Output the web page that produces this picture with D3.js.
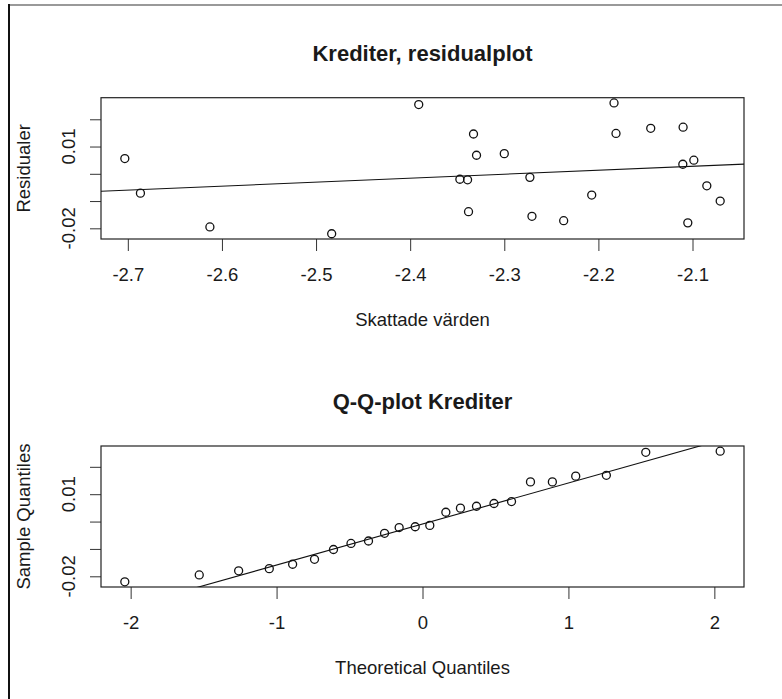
<!doctype html>
<html>
    <head>
        <meta charset="utf-8">
        <title>Krediter residualer</title>
        <script src="https://d3js.org/d3.v7.min.js"></script>
        <style>
            body { margin: 0; background: #fff; }
            text { font-family: "Liberation Sans", Arial, Helvetica, sans-serif; fill: #1a1a1a; }
        </style>
    </head>

    <body>
        <script>
            // fitted values and residuals
            var fitted = [-2.7032, -2.6866, -2.6128, -2.4834, -2.3909, -2.1834, -2.3327, -2.1813,
                          -2.1444, -2.1100, -2.3295, -2.3000, -2.1103, -2.0986, -2.3472, -2.3390,
                          -2.2728, -2.0848, -2.0706, -2.2071, -2.3380, -2.2706, -2.2369, -2.1050];
            var residuals = [0.0056, -0.0071, -0.0195, -0.0220, 0.0254, 0.0260, 0.0146, 0.0148,
                             0.0167, 0.0171, 0.0068, 0.0074, 0.0035, 0.0050, -0.0020, -0.0022,
                             -0.0013, -0.0044, -0.0100, -0.0078, -0.0139, -0.0156, -0.0172, -0.0180];

            // Q-Q plot
            var theoretical = [-2.04, -1.53, -1.26, -1.05, -0.89, -0.74, -0.61, -0.49, -0.37, -0.26, -0.16, -0.05,
                               0.05, 0.16, 0.26, 0.37, 0.49, 0.61, 0.74, 0.89, 1.05, 1.26, 1.53, 2.04];
            var sampleQ = [-0.0220, -0.0195, -0.0180, -0.0172, -0.0156, -0.0138, -0.0102, -0.0080,
                           -0.0071, -0.0043, -0.0022, -0.0019, -0.0014, 0.0034, 0.0049, 0.0056,
                           0.0066, 0.0073, 0.0145, 0.0145, 0.0166, 0.0169, 0.0253, 0.0257];

            // reference lines: [intercept, slope]
            var fitLine = [0.0334, 0.01459];
            var qqLine = [-0.0009, 0.0150];

            var residXTicks = [-2.7, -2.6, -2.5, -2.4, -2.3, -2.2, -2.1];
            var qqXTicks = [-2, -1, 0, 1, 2];
            var yTicks = [0.02, 0.01, 0, -0.01, -0.02];
            var yTickLabels = [0.01, -0.02];   // R drops the overlapping ones

            var width = 782;
            var height = 699;
            var left = 101, right = 744;

            var svg = d3.select("body")
                .append("svg")
                .attr("width", width)
                .attr("height", height);

            // frame lines of the screenshot
            svg.append("line")
                .attr("x1", 8).attr("x2", width).attr("y1", 5).attr("y2", 5)
                .attr("stroke", "#777").attr("stroke-width", 1.5);
            svg.append("line")
                .attr("x1", 9).attr("x2", 9).attr("y1", 4).attr("y2", height)
                .attr("stroke", "#111").attr("stroke-width", 2);

            // R style range: data extent padded 4% each side
            function rRange(vals) {
                var e = d3.extent(vals);
                var pad = (e[1] - e[0]) * 0.04;
                return [e[0] - pad, e[1] + pad];
            }

            function panel(opts) {
                var top = opts.top, bottom = opts.bottom;
                var x = d3.scaleLinear().domain(rRange(opts.xs)).range([left, right]);
                var y = d3.scaleLinear().domain(rRange(opts.ys)).range([bottom, top]);

                var g = svg.append("g");

                var clipId = "clip" + opts.id;
                g.append("clipPath").attr("id", clipId)
                    .append("rect")
                    .attr("x", left).attr("y", top)
                    .attr("width", right - left).attr("height", bottom - top);

                // axes: R ticks point outward, labels below / rotated on the left
                var xAxis = g.append("g")
                    .attr("transform", "translate(0," + bottom + ")")
                    .call(d3.axisBottom(x).tickValues(opts.xTicks).tickSize(12).tickPadding(10)
                        .tickFormat(function (d) { return d3.format("")(d).replace("−", "-"); }));
                xAxis.select(".domain").remove();
                xAxis.selectAll("line").attr("stroke", "#333");
                xAxis.selectAll("text")
                    .attr("dy", null).attr("y", 42)
                    .style("font-size", "18.5px")
                    .style("font-family", "'Liberation Sans', Arial, sans-serif")
                    .attr("fill", "#1a1a1a");

                var yAxis = g.append("g")
                    .attr("transform", "translate(" + left + ",0)")
                    .call(d3.axisLeft(y).tickValues(yTicks).tickSize(11).tickFormat(""));
                yAxis.select(".domain").remove();
                yAxis.selectAll("line").attr("stroke", "#333");

                g.selectAll(".ylab")
                    .data(yTickLabels)
                    .enter().append("text")
                    .attr("class", "ylab")
                    .attr("transform", function (d) { return "translate(75," + y(d) + ") rotate(-90)"; })
                    .attr("text-anchor", "middle")
                    .style("font-size", "18.5px")
                    .text(function (d) { return d3.format(".2f")(d).replace("−", "-"); });

                // box
                g.append("rect")
                    .attr("x", left).attr("y", top)
                    .attr("width", right - left).attr("height", bottom - top)
                    .attr("fill", "none").attr("stroke", "#222").attr("stroke-width", 1.2);

                // reference line
                var xd = x.domain();
                g.append("line")
                    .attr("clip-path", "url(#" + clipId + ")")
                    .attr("x1", x(xd[0])).attr("x2", x(xd[1]))
                    .attr("y1", y(opts.line[0] + opts.line[1] * xd[0]))
                    .attr("y2", y(opts.line[0] + opts.line[1] * xd[1]))
                    .attr("stroke", "#111").attr("stroke-width", 1.1);

                // points
                g.selectAll("circle")
                    .data(opts.xs.map(function (v, i) { return [v, opts.ys[i]]; }))
                    .enter().append("circle")
                    .attr("cx", function (d) { return x(d[0]); })
                    .attr("cy", function (d) { return y(d[1]); })
                    .attr("r", 4)
                    .attr("fill", "none")
                    .attr("stroke", "#111")
                    .attr("stroke-width", 1.3);

                // titles
                var mid = (left + right) / 2;
                g.append("text")
                    .attr("x", mid).attr("y", top - 37)
                    .attr("text-anchor", "middle")
                    .style("font-size", "22px").style("font-weight", "bold")
                    .text(opts.title);
                g.append("text")
                    .attr("x", mid).attr("y", bottom + 87)
                    .attr("text-anchor", "middle")
                    .style("font-size", "18.5px")
                    .text(opts.xLabel);
                g.append("text")
                    .attr("transform", "translate(30," + (top + bottom) / 2 + ") rotate(-90)")
                    .attr("text-anchor", "middle")
                    .style("font-size", "18.5px")
                    .text(opts.yLabel);
            }

            panel({
                id: 1, top: 97.7, bottom: 239,
                xs: fitted, ys: residuals, line: fitLine, xTicks: residXTicks,
                title: "Krediter, residualplot", xLabel: "Skattade värden", yLabel: "Residualer"
            });

            panel({
                id: 2, top: 446, bottom: 587,
                xs: theoretical, ys: sampleQ, line: qqLine, xTicks: qqXTicks,
                title: "Q-Q-plot Krediter", xLabel: "Theoretical Quantiles", yLabel: "Sample Quantiles"
            });
        </script>
    </body>
</html>
